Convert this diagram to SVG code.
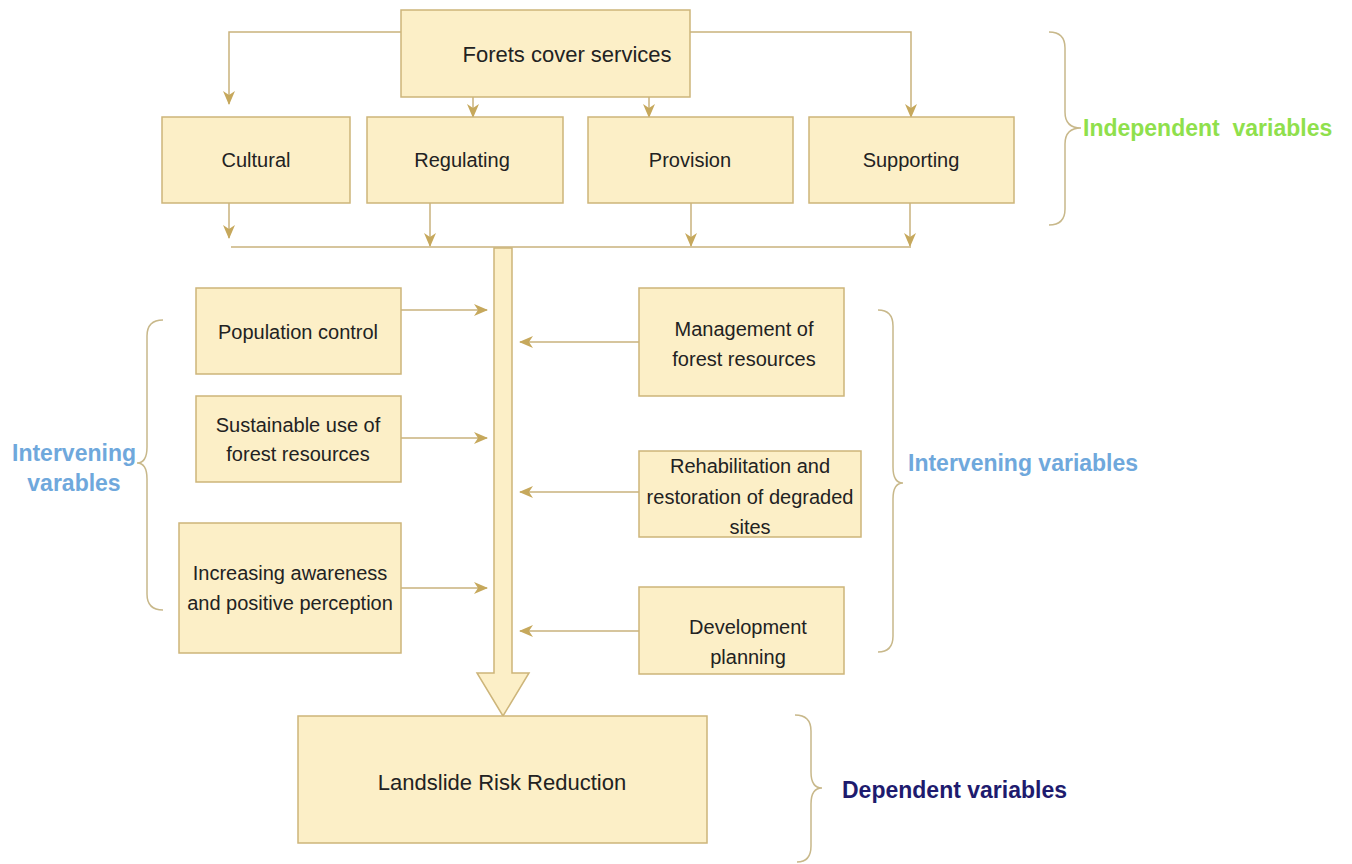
<svg xmlns="http://www.w3.org/2000/svg" width="1352" height="864" viewBox="0 0 1352 864">
<style>
.box{fill:#fcefc7;stroke:#cdb57a;stroke-width:1.5}
.t{font-family:"Liberation Sans",Arial,sans-serif;font-size:20px;fill:#222;text-anchor:middle}
.tl{font-size:22px}
.c{fill:none;stroke:#c9b27c;stroke-width:1.5}
.br{fill:none;stroke:#c8b88a;stroke-width:1.5}
.lab{font-family:"Liberation Sans",Arial,sans-serif;font-size:23px;font-weight:bold}
</style>
<defs>
<marker id="ah" viewBox="0 0 14 12" refX="13" refY="6" markerWidth="14" markerHeight="12" markerUnits="userSpaceOnUse" orient="auto">
<path d="M0,0 L14,6 L0,12 L4,6 Z" fill="#c6a85c"/>
</marker>
</defs>
<rect width="1352" height="864" fill="#fff"/>

<g id="connectors">
<path class="c" d="M401,32 H229 V104" marker-end="url(#ah)"/>
<path class="c" d="M690,32 H911 V117" marker-end="url(#ah)"/>
<path class="c" d="M473,97 V117" marker-end="url(#ah)"/>
<path class="c" d="M649,97 V117" marker-end="url(#ah)"/>
<path class="c" d="M229,203 V238" marker-end="url(#ah)"/>
<path class="c" d="M430,203 V246" marker-end="url(#ah)"/>
<path class="c" d="M691,203 V246" marker-end="url(#ah)"/>
<path class="c" d="M910,203 V246" marker-end="url(#ah)"/>
<path class="c" d="M231,247 H911"/>
<path class="c" d="M401,310 H487" marker-end="url(#ah)"/>
<path class="c" d="M401,438 H487" marker-end="url(#ah)"/>
<path class="c" d="M401,588 H487" marker-end="url(#ah)"/>
<path class="c" d="M639,342 H520" marker-end="url(#ah)"/>
<path class="c" d="M639,492 H520" marker-end="url(#ah)"/>
<path class="c" d="M639,631 H520" marker-end="url(#ah)"/>
<path id="big-arrow" class="box" d="M494,248 H512 V673 H529 L503,716 L477,673 H494 Z"/>
</g>

<g id="forest"><rect class="box" x="401" y="10" width="289" height="87"/><text class="t tl" x="567" y="62">Forets cover services</text></g>
<g id="cultural"><rect class="box" x="162" y="117" width="188" height="86"/><text class="t" x="256" y="167">Cultural</text></g>
<g id="regulating"><rect class="box" x="367" y="117" width="196" height="86"/><text class="t" x="462" y="167">Regulating</text></g>
<g id="provision"><rect class="box" x="588" y="117" width="205" height="86"/><text class="t" x="690" y="167">Provision</text></g>
<g id="supporting"><rect class="box" x="809" y="117" width="205" height="86"/><text class="t" x="911" y="167">Supporting</text></g>

<g id="population"><rect class="box" x="196" y="288" width="205" height="86"/><text class="t" x="298" y="339">Population control</text></g>
<g id="sustainable"><rect class="box" x="196" y="396" width="205" height="86"/><text class="t" x="298" y="432">Sustainable use of</text><text class="t" x="298" y="461">forest resources</text></g>
<g id="awareness"><rect class="box" x="179" y="523" width="222" height="130"/><text class="t" x="290" y="580">Increasing awareness</text><text class="t" x="290" y="610">and positive perception</text></g>

<g id="management"><rect class="box" x="639" y="288" width="205" height="108"/><text class="t" x="744" y="336">Management of</text><text class="t" x="744" y="366">forest resources</text></g>
<g id="rehabilitation"><rect class="box" x="639" y="451" width="222" height="86"/><text class="t" x="750" y="473">Rehabilitation and</text><text class="t" x="750" y="504">restoration of degraded</text><text class="t" x="750" y="534">sites</text></g>
<g id="development"><rect class="box" x="639" y="587" width="205" height="87"/><text class="t" x="748" y="634">Development</text><text class="t" x="748" y="664">planning</text></g>

<g id="landslide"><rect class="box" x="298" y="716" width="409" height="127"/><text class="t tl" x="502" y="790">Landslide Risk Reduction</text></g>

<g id="independent-label">
<path class="br" d="M1049,32 Q1065,32 1065,48 L1065,112 Q1065,128 1081,128 Q1065,128 1065,144 L1065,209 Q1065,225 1049,225"/>
<text class="lab" x="1083" y="136" fill="#8fe04c" xml:space="preserve">Independent  variables</text>
</g>
<g id="left-intervening-label">
<path class="br" d="M163,320 Q147,320 147,336 L147,447 Q147,463 137,463 Q147,463 147,479 L147,594 Q147,610 163,610"/>
<text class="lab" x="74" y="461" fill="#6fa8dc" text-anchor="middle">Intervening</text>
<text class="lab" x="74" y="491" fill="#6fa8dc" text-anchor="middle">varables</text>
</g>
<g id="right-intervening-label">
<path class="br" d="M878,310 Q893,310 893,326 L893,467 Q893,483 903,483 Q893,483 893,499 L893,636 Q893,652 878,652"/>
<text class="lab" x="908" y="471" fill="#6fa8dc">Intervening variables</text>
</g>
<g id="dependent-label">
<path class="br" d="M795,715 Q811,715 811,731 L811,772 Q811,788 822,788 Q811,788 811,804 L811,846 Q811,862 797,862"/>
<text class="lab" x="842" y="798" fill="#1e1b6e">Dependent variables</text>
</g>
</svg>
